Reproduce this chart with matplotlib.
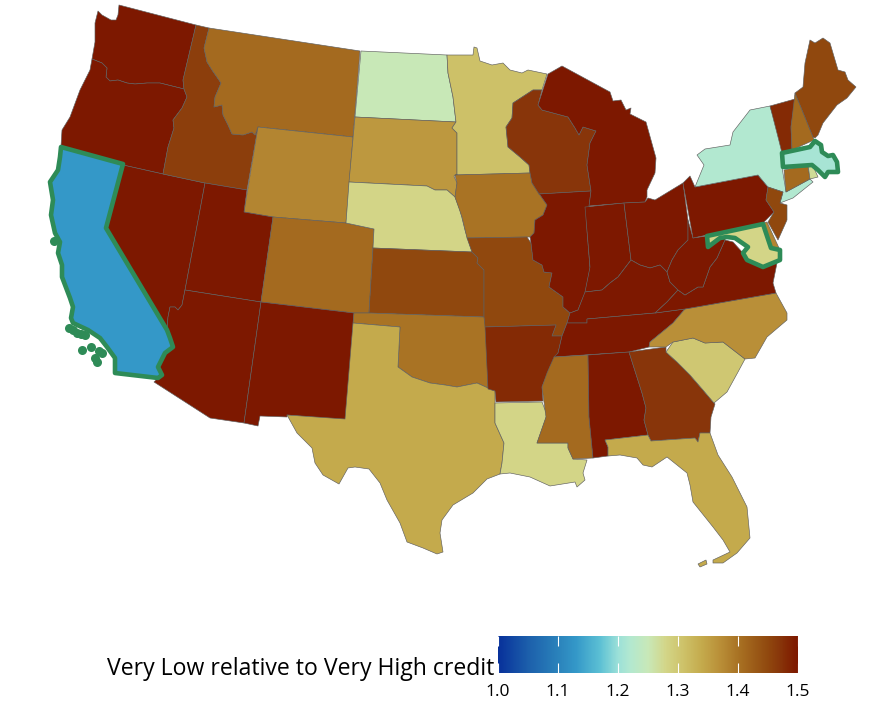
import matplotlib
matplotlib.use("Agg")
import matplotlib.pyplot as plt
from matplotlib.colors import LinearSegmentedColormap, Normalize
from matplotlib.patches import Polygon
from matplotlib.cm import ScalarMappable

# ratio per state
states = ["WA","OR","NV","ID","MT","WY","UT","AZ","CO","NM","ND","SD","NE","KS","OK","TX","MN","IA","MO","AR","LA",
          "WI","IL","MI","IN","OH","KY","TN","MS","AL","GA","FL","SC","NC","VA","WV","PA","NY","NJ","DE","VT","NH","ME","CT","RI","MD","MA","CA"]
ratios = [1.50,1.50,1.50,1.46,1.41,1.38,1.50,1.50,1.41,1.50,1.25,1.36,1.28,1.45,1.40,1.34,1.31,1.40,1.45,1.48,1.28,
          1.47,1.50,1.50,1.50,1.50,1.50,1.50,1.41,1.50,1.47,1.34,1.30,1.37,1.50,1.50,1.50,1.22,1.45,1.38,1.48,1.41,1.45,1.41,1.27,1.28,1.21,1.13]
highlighted = ["CA","MD","MA"]

# state outlines in map units
WA = [(98,11),(102,15),(111,20),(116,20),(118,15),(119,5),(196,25),(183,80),(184,89),(160,83),(147,83),(135,84),(127,83),(118,80),(110,81),(106,77),(107,68),(102,63),(92,59),(95,42),(95,23)]
OR = [(92,59),(102,63),(107,68),(106,77),(110,81),(118,80),(127,83),(135,84),(147,83),(160,83),(184,89),(187,97),(182,108),(173,120),(174,128),(168,147),(163,174),(123,165),(61,146),(62,130),(70,117),(80,90),(90,70)]
CA = [(61,147),(123,164),(106,228),(167,330),(170,338),(173,347),(165,353),(158,367),(162,375),(158,378),(115,373),(115,358),(107,347),(100,338),(88,330),(73,323),(71,318),(73,307),(70,298),(62,277),(62,265),(58,253),(60,242),(55,233),(51,215),(53,200),(50,182),(58,170),(60,157)]
NV = [(123,165),(163,174),(205,183),(200,210),(185,290),(182,305),(178,310),(175,307),(170,307),(168,317),(167,330),(106,228)]
UT = [(205,183),(247,190),(244,212),(273,217),(261,302),(185,290),(200,210)]
AZ = [(185,290),(261,302),(244,423),(210,418),(154,382),(158,378),(162,375),(158,367),(165,353),(173,347),(170,338),(167,330),(168,317),(170,307),(175,307),(178,310),(182,305)]
NM = [(261,302),(354,313),(346,420),(287,415),(287,417),(260,416),(258,426),(244,423)]
WY = [(258,127),(353,137),(346,223),(273,217),(244,212)]
MT = [(209,28),(360,51),(353,137),(258,127),(255,135),(252,132),(243,135),(232,134),(228,125),(223,115),(222,105),(214,107),(215,97),(221,83),(212,70),(207,62),(204,48)]
ID = [(196,25),(209,28),(204,48),(207,62),(212,70),(221,83),(215,97),(214,107),(222,105),(223,115),(228,125),(232,134),(243,135),(252,132),(255,135),(258,127),(247,190),(205,183),(163,174),(168,147),(174,128),(173,120),(182,108),(187,97),(184,89),(183,80)]
ND = [(361,51),(447,55),(448,73),(453,97),(456,122),(355,117)]
SD = [(355,117),(456,122),(452,128),(457,133),(457,175),(454,176),(457,183),(455,197),(447,190),(435,190),(427,186),(349,182)]
NE = [(349,182),(427,186),(435,190),(447,190),(455,197),(460,210),(465,230),(472,252),(373,248),(374,229),(346,223)]
CO = [(273,217),(346,223),(374,229),(373,248),(369,313),(354,313),(261,302)]
KS = [(373,248),(472,252),(478,258),(477,263),(484,270),(484,317),(369,313)]
OK = [(354,313),(369,313),(484,317),(486,328),(488,388),(477,383),(457,387),(445,385),(430,383),(412,377),(398,367),(400,327),(353,323)]
TX = [(353,323),(400,327),(398,367),(412,377),(430,383),(445,385),(457,387),(477,383),(488,388),(495,391),(495,423),(504,443),(502,463),(500,474),(487,479),(473,493),(453,505),(442,520),(440,533),(443,552),(437,554),(423,548),(407,542),(400,523),(387,500),(380,483),(369,469),(355,467),(348,468),(339,484),(323,475),(315,463),(312,448),(297,433),(287,415),(345,419)]
MN = [(447,55),(473,55),(474,47),(477,48),(480,61),(492,65),(503,63),(510,70),(522,73),(528,70),(547,74),(542,90),(533,90),(513,103),(512,118),(506,127),(508,147),(520,157),(529,165),(530,173),(455,175),(457,175),(457,133),(452,128),(456,122),(453,97),(448,73)]
IA = [(455,175),(530,173),(532,183),(540,195),(547,205),(543,215),(535,220),(534,233),(530,237),(467,238),(462,217),(455,197),(457,183)]
MO = [(467,238),(527,237),(531,243),(533,260),(542,265),(544,272),(552,273),(549,287),(563,297),(563,307),(570,313),(567,323),(562,336),(552,336),(556,325),(485,327),(484,317),(484,270),(477,263),(478,258),(472,252)]
AR = [(485,327),(556,325),(552,336),(562,336),(558,353),(550,367),(542,387),(543,401),(496,402),(495,391),(488,389)]
LA = [(495,403),(542,402),(547,415),(537,443),(568,443),(568,448),(573,459),(587,460),(583,473),(585,480),(577,487),(575,482),(550,486),(530,477),(510,473),(500,474),(502,463),(504,443),(495,423)]
WI = [(538,105),(542,110),(568,117),(575,128),(579,135),(583,127),(596,131),(590,143),(587,165),(591,191),(539,194),(532,183),(530,173),(529,165),(520,157),(508,147),(506,127),(512,118),(513,103),(533,90),(542,90)]
IL = [(539,194),(591,191),(589,207),(586,208),(587,230),(590,268),(585,293),(582,300),(578,310),(570,313),(563,307),(563,297),(549,287),(552,273),(544,272),(542,265),(533,260),(531,243),(530,237),(534,233),(535,220),(543,215),(547,205),(540,195)]
MI = [(589,206),(625,203),(645,202),(647,197),(647,190),(655,173),(656,158),(646,122),(630,114),(631,108),(626,110),(621,100),(613,101),(610,92),(562,66),(548,74),(538,105),(542,110),(568,117),(575,128),(579,135),(583,127),(596,131),(590,143),(587,165),(591,191)]
IN = [(585,207),(624,203),(631,260),(618,277),(610,283),(602,290),(585,292),(590,267)]
OH = [(624,203),(645,202),(648,198),(655,200),(683,183),(688,220),(688,240),(678,250),(672,260),(667,272),(660,265),(650,268),(640,265),(631,260)]
KY = [(631,260),(640,265),(650,268),(660,265),(667,272),(670,282),(678,290),(667,302),(655,313),(587,319),(587,323),(567,323),(570,313),(578,310),(585,292),(602,290),(610,283),(618,277)]
TN = [(567,323),(587,323),(587,319),(655,313),(685,309),(673,323),(667,328),(650,342),(649,347),(629,352),(554,357),(558,353),(562,336)]
MS = [(554,357),(588,355),(589,417),(593,458),(573,459),(568,448),(568,443),(537,443),(546,417),(542,387),(547,373)]
AL = [(588,355),(629,352),(642,393),(646,408),(644,420),(648,435),(605,440),(608,447),(608,456),(593,458),(589,417)]
GA = [(629,352),(666,347),(666,352),(677,362),(690,375),(703,390),(715,404),(711,417),(710,433),(700,433),(698,442),(695,438),(651,441),(648,435),(644,420),(646,408),(642,393)]
FL = [(605,440),(648,435),(651,441),(695,438),(698,442),(700,433),(710,433),(718,455),(732,477),(747,507),(750,538),(737,553),(723,563),(713,563),(713,560),(730,552),(723,540),(713,527),(693,502),(690,485),(687,473),(667,457),(652,467),(643,465),(637,458),(620,455),(608,456),(608,447)]
FL_KEY = [(698,564),(706,560),(707,564),(700,567)]
SC = [(666,352),(673,342),(693,338),(705,343),(723,342),(745,359),(738,372),(727,392),(714,403),(703,390),(690,375),(677,362)]
NC = [(685,309),(776,293),(787,313),(787,320),(767,337),(755,358),(745,359),(723,342),(705,343),(693,338),(673,342),(666,347),(649,347),(650,342),(667,328),(673,323)]
VA = [(776,293),(685,309),(655,313),(667,302),(678,290),(685,295),(698,287),(703,287),(710,267),(717,258),(725,240),(733,242),(743,253),(747,260),(763,267),(777,263),(773,283)]
WV = [(667,272),(672,260),(678,250),(688,240),(688,220),(693,238),(707,236),(708,247),(718,240),(725,238),(725,240),(717,258),(710,267),(703,287),(698,287),(685,295),(678,290),(670,282)]
PA = [(683,183),(690,176),(695,187),(758,175),(768,187),(766,200),(774,212),(763,223),(693,238)]
NY = [(695,187),(704,165),(697,155),(705,149),(730,145),(733,132),(750,110),(770,106),(782,143),(782,167),(786,192),(810,179),(813,182),(793,198),(780,203),(783,192),(768,187),(758,175)]
NJ = [(768,187),(783,192),(780,203),(787,205),(787,220),(778,240),(768,222),(774,212),(766,200)]
DE = [(763,223),(767,222),(779,248),(771,248)]
VT = [(770,106),(795,99),(791,127),(792,150),(782,153),(778,137)]
NH = [(795,93),(800,105),(813,137),(814,140),(792,150),(791,127)]
ME = [(795,93),(803,87),(805,63),(810,40),(815,43),(823,38),(830,43),(838,70),(845,72),(848,80),(856,87),(847,98),(837,105),(823,123),(818,135),(815,138),(813,137),(800,105)]
CT = [(784,170),(808,165),(810,179),(786,192)]
RI = [(808,165),(813,166),(818,177),(810,179)]
MD = [(707,236),(763,224),(771,248),(780,250),(780,260),(763,267),(747,260),(743,253),(748,247),(735,238),(727,237),(720,238),(708,247)]
MA = [(782,153),(810,147),(815,141),(821,145),(822,152),(828,156),(833,155),(837,162),(838,172),(828,172),(825,177),(818,170),(812,165),(783,167)]
CA_ISLANDS = [(82,350),(91,347),(99,351),(102,353),(95,358),(97,362),(69,328),(73,330),(77,333),(81,334),(85,335),(54,241)]

outlines = dict(WA=WA,OR=OR,CA=CA,NV=NV,UT=UT,AZ=AZ,NM=NM,WY=WY,MT=MT,ID=ID,ND=ND,SD=SD,NE=NE,CO=CO,KS=KS,OK=OK,TX=TX,MN=MN,IA=IA,MO=MO,AR=AR,LA=LA,
                WI=WI,IL=IL,MI=MI,IN=IN,OH=OH,KY=KY,TN=TN,MS=MS,AL=AL,GA=GA,FL=FL,SC=SC,NC=NC,VA=VA,WV=WV,PA=PA,NY=NY,NJ=NJ,DE=DE,VT=VT,NH=NH,ME=ME,CT=CT,RI=RI,MD=MD,MA=MA)

color_stops = [(1.00,"#07309a"),(1.05,"#1c5fab"),(1.10,"#2a82bb"),(1.13,"#3498c8"),(1.17,"#5cc0d4"),(1.20,"#9be0d8"),(1.22,"#b2e8d0"),
               (1.25,"#c8e8b8"),(1.28,"#d3d587"),(1.31,"#cdc168"),(1.34,"#c4aa4c"),(1.37,"#b98f38"),(1.40,"#a97324"),(1.41,"#a46a1f"),
               (1.45,"#90480e"),(1.47,"#88360a"),(1.48,"#842a05"),(1.50,"#7d1800")]
cbar_ticks = [1.0,1.1,1.2,1.3,1.4,1.5]
cbar_title = "Very Low relative to Very High credit"

norm = Normalize(1.0, 1.5)
cmap = LinearSegmentedColormap.from_list("credit", [((v-1.0)/0.5, c) for v, c in color_stops], N=512)

fig = plt.figure(figsize=(8.8, 7.1), dpi=100)
ax = fig.add_axes([0, 0, 1, 1])
ax.set_xlim(0, 880)
ax.set_ylim(710, 0)
ax.axis("off")

GREY = "#5f5f5f"
GREEN = "#2e8b57"
for s, r in zip(states, ratios):
    hi = s in highlighted
    ax.add_patch(Polygon(outlines[s], closed=True, facecolor=cmap(norm(r)),
                         edgecolor=GREEN if hi else GREY, linewidth=3.3 if hi else 0.45,
                         joinstyle="round", zorder=3 if hi else 2))
ax.add_patch(Polygon(FL_KEY, closed=True, facecolor=cmap(norm(ratios[states.index("FL")])),
                     edgecolor=GREY, linewidth=0.45, zorder=2))
ax.plot(*zip(*CA_ISLANDS), ls="none", marker="o", ms=6.5, color=GREEN, mew=0, zorder=3)

cax = fig.add_axes([498/880, 1-673/710, 300/880, 37/710])
cb = fig.colorbar(ScalarMappable(norm=norm, cmap=cmap), cax=cax, orientation="horizontal", ticks=cbar_ticks)
cb.outline.set_visible(False)
cax.tick_params(axis="x", which="both", direction="in", length=7, width=0.8, color="white",
                top=True, bottom=True, labelcolor="black", labelsize=12.5, pad=8)
for t in cax.get_xticklabels():
    t.set_family("Open Sans")
ax.text(494, 669, cbar_title, ha="right", va="center", fontsize=16.6, family="Open Sans", color="black", zorder=5)

fig.savefig("out.png", dpi=100)
